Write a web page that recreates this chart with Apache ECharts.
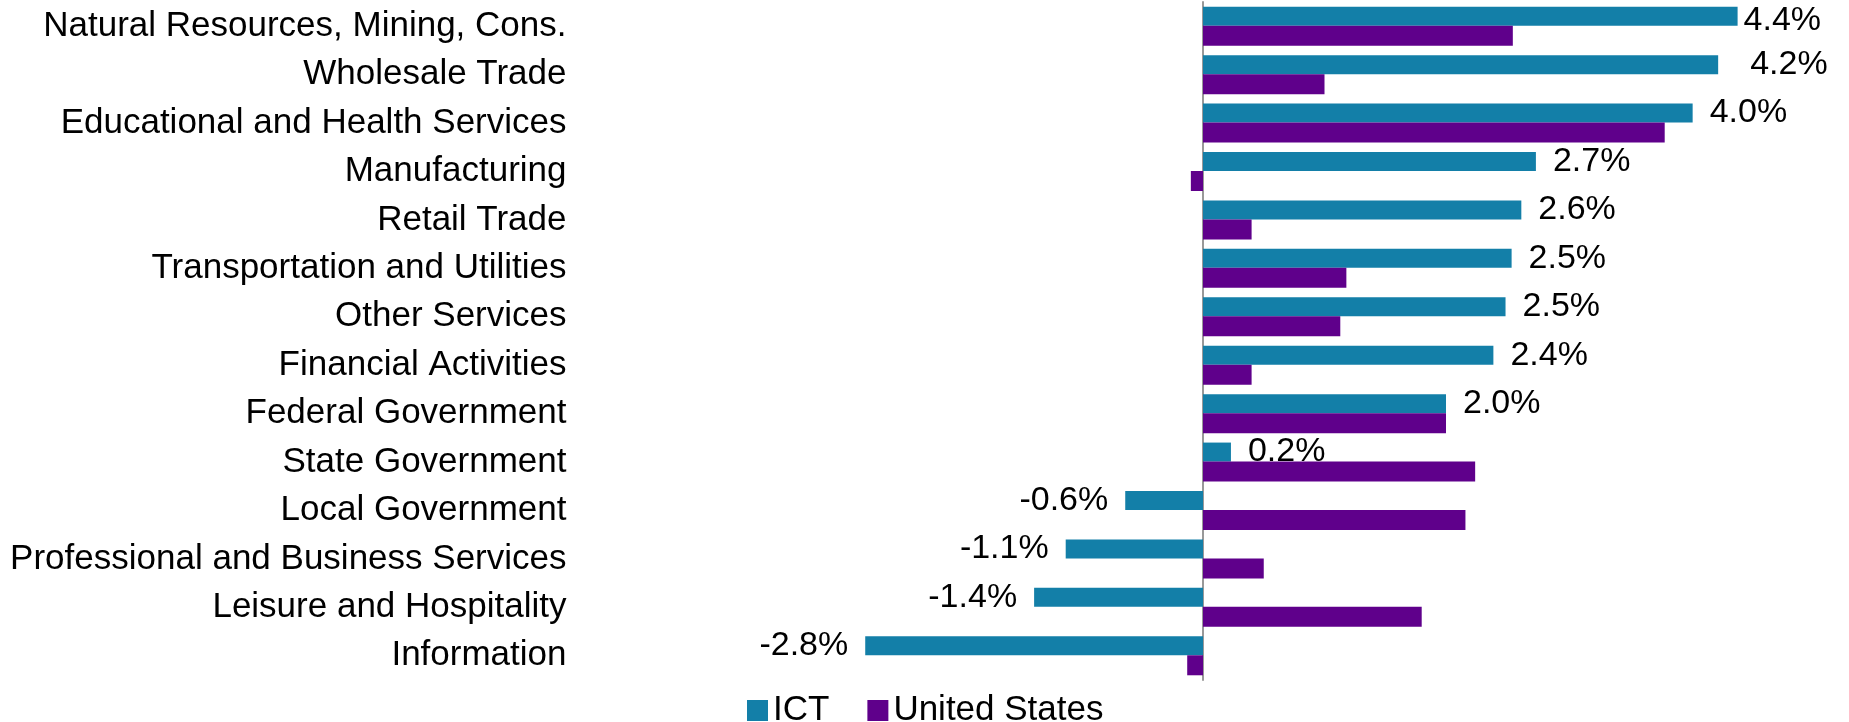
<!DOCTYPE html>
<html>
<head>
<meta charset="utf-8">
<script src="https://cdn.jsdelivr.net/npm/echarts@6/dist/echarts.min.js"></script>
<style>
  html, body { margin: 0; padding: 0; background: #fff; }
  #chart { width: 1849px; height: 722px; }
</style>
</head>
<body>
<div id="chart"></div>
<script>
  // 行业分类（从上到下）
  var categories = [
    'Natural Resources, Mining, Cons.',
    'Wholesale Trade',
    'Educational and Health Services',
    'Manufacturing',
    'Retail Trade',
    'Transportation and Utilities',
    'Other Services',
    'Financial Activities',
    'Federal Government',
    'State Government',
    'Local Government',
    'Professional and Business Services',
    'Leisure and Hospitality',
    'Information'
  ];
  var ictValues = [4.4, 4.24, 4.03, 2.74, 2.62, 2.54, 2.49, 2.39, 2.0, 0.23, -0.64, -1.13, -1.39, -2.78];
  var usValues = [2.55, 1.0, 3.8, -0.1, 0.4, 1.18, 1.13, 0.4, 2.0, 2.24, 2.16, 0.5, 1.8, -0.13];
  var seriesNames = ['ICT', 'United States'];

  var font = '"Liberation Sans", Arial, sans-serif';

  var myChart = echarts.init(document.getElementById('chart'));
  var option = {
    animation: false,
    color: ['#137FA8', '#5F008B'],
    grid: { left: 838.5, right: 38.5, top: 2, bottom: 42, containLabel: false, outerBoundsMode: 'none' },
    legend: {
      data: seriesNames,
      left: 742,
      top: 688,
      itemWidth: 21,
      itemHeight: 21,
      itemGap: 38,
      icon: 'rect',
      textStyle: { fontFamily: font, fontSize: 35, color: '#000' }
    },
    xAxis: {
      type: 'value',
      min: -3,
      max: 5,
      show: false
    },
    yAxis: {
      type: 'category',
      inverse: true,
      data: categories,
      axisLine: { show: true, onZero: true, lineStyle: { color: '#999', width: 2 } },
      axisTick: { show: false },
      axisLabel: {
        interval: 0,
        margin: 272,
        fontFamily: font,
        fontSize: 35,
        color: '#000'
      }
    },
    series: [
      {
        name: seriesNames[0],
        type: 'bar',
        barWidth: 19,
        barGap: '0%',
        data: ictValues.map(function (v, i) {
          var lbl = { position: v >= 0 ? 'right' : 'left' };
          // 顶部两个标签在原图里位置略有偏移
          if (i === 0) lbl.offset = [-11, 4];
          if (i === 1) lbl.offset = [15, 0];
          return { value: v, label: lbl };
        }),
        label: {
          show: true,
          distance: 17,
          fontFamily: font,
          fontSize: 34,
          color: '#000',
          formatter: function (p) { return p.value.toFixed(1) + '%'; }
        }
      },
      {
        name: seriesNames[1],
        type: 'bar',
        barWidth: 20,
        barGap: '0%',
        data: usValues
      }
    ]
  };
  myChart.setOption(option);
</script>
</body>
</html>
